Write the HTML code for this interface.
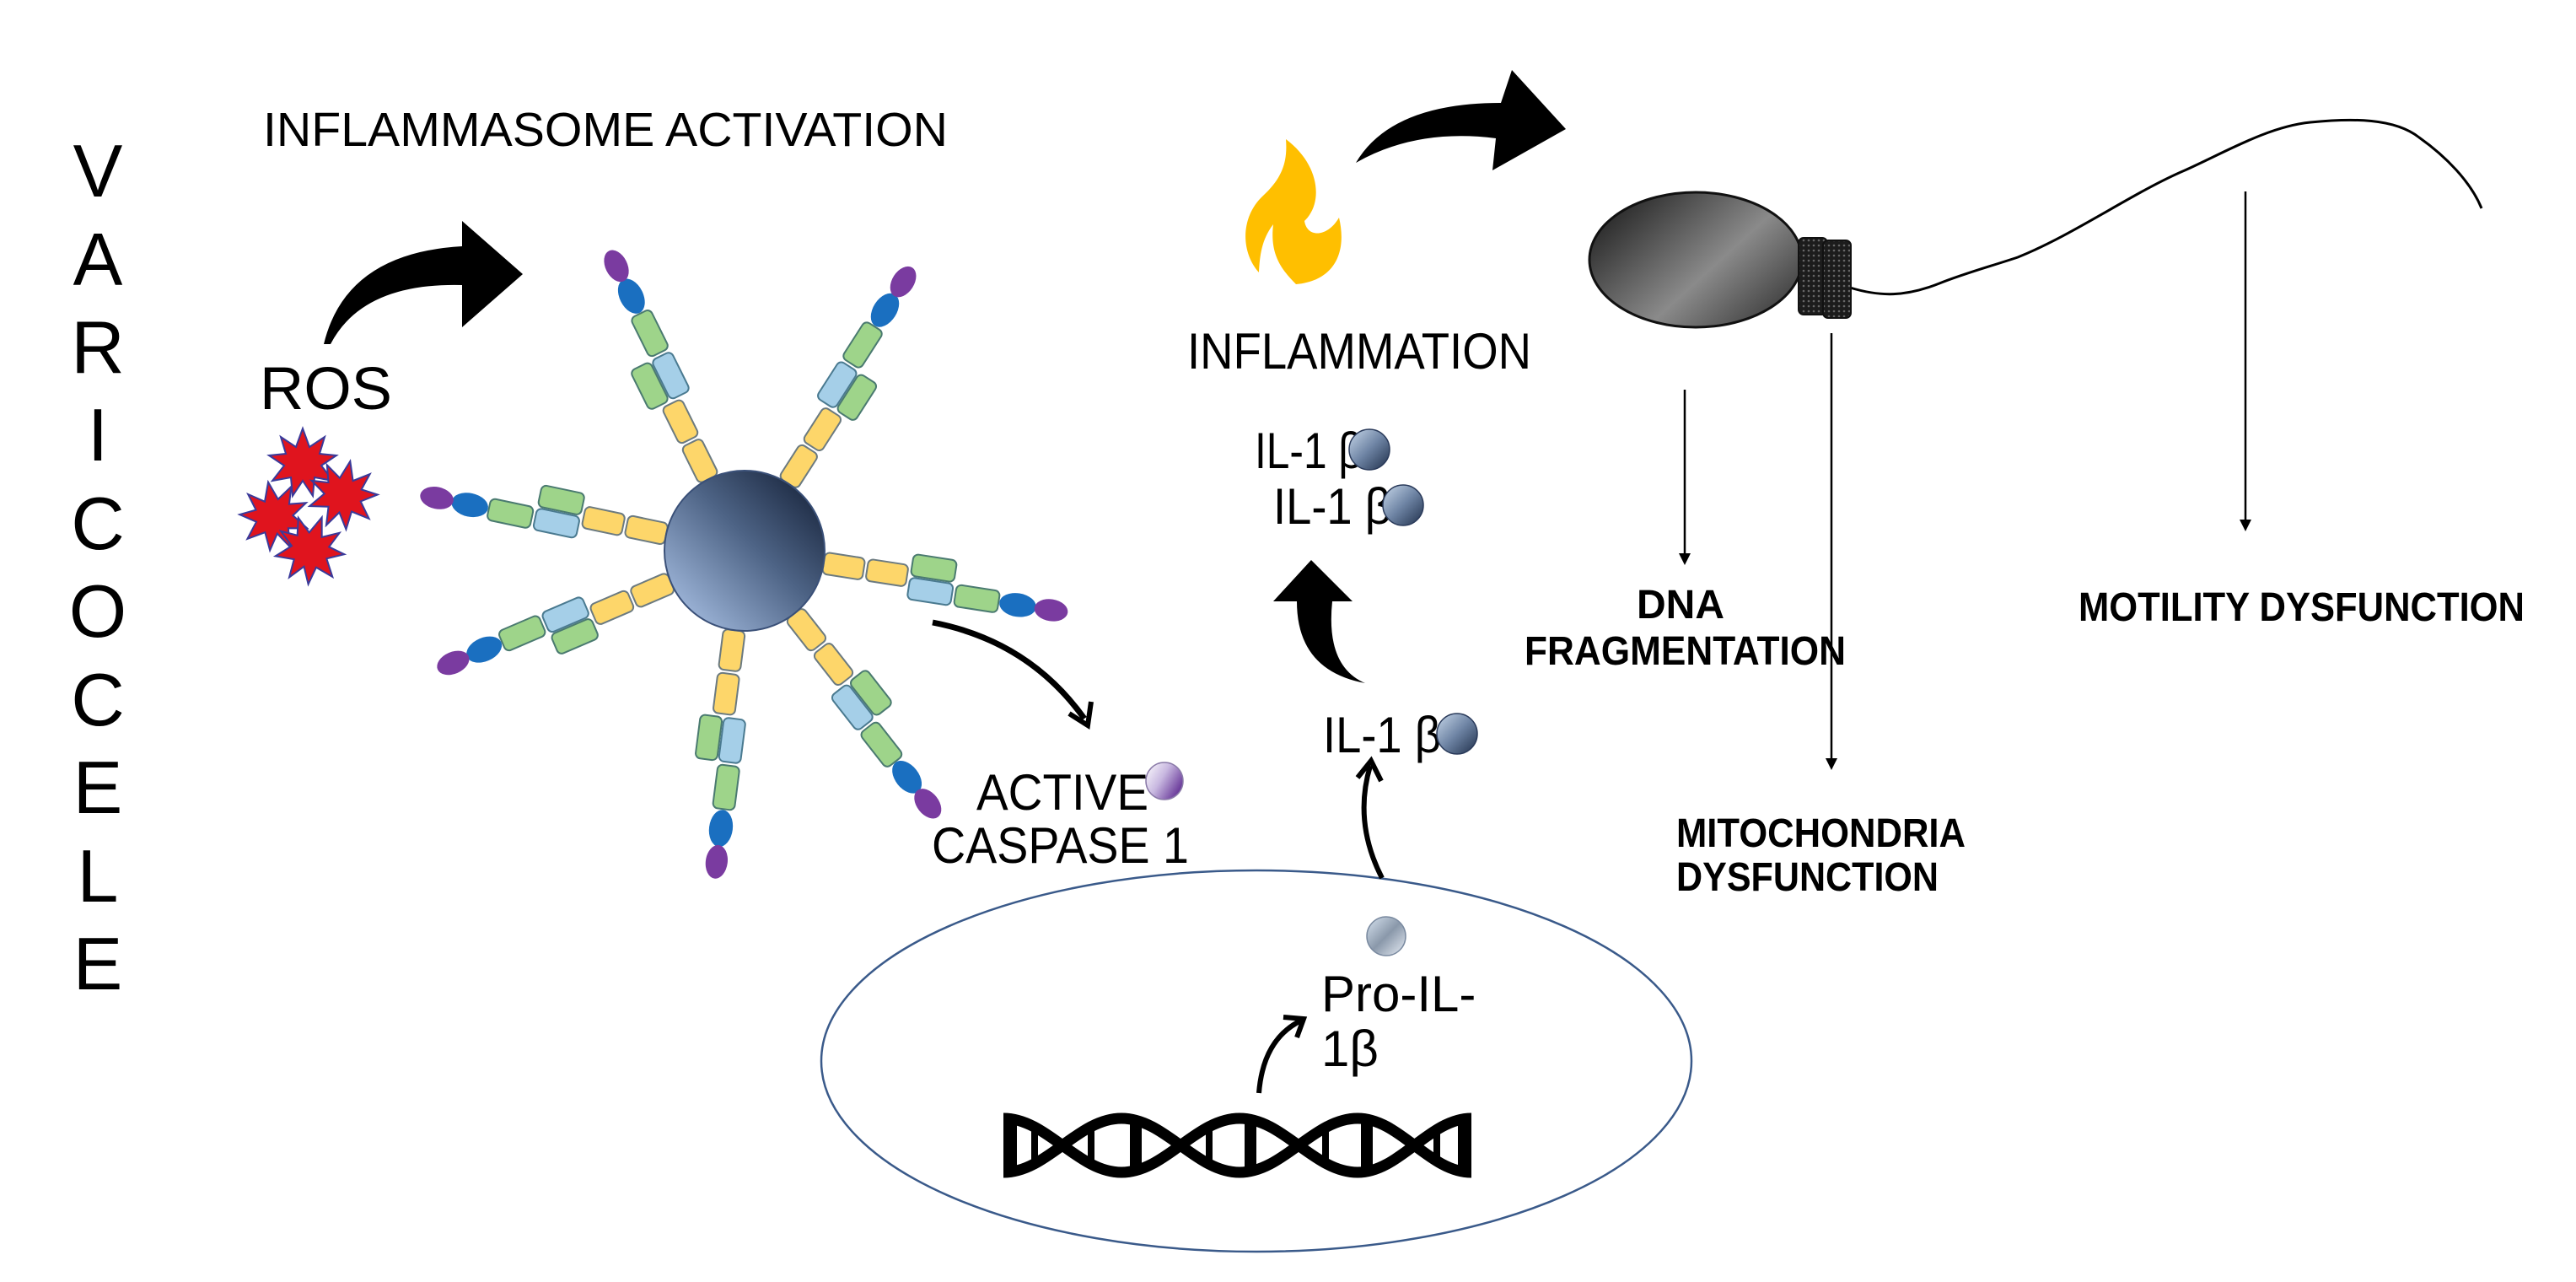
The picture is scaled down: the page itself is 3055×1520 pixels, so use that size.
<!DOCTYPE html>
<html><head><meta charset="utf-8"><style>
html,body{margin:0;padding:0;background:#fff;}
svg{display:block;}
text{font-family:"Liberation Sans",Arial,sans-serif;fill:#000;}
.b{font-weight:bold;}
</style></head><body>
<svg width="3055" height="1520" viewBox="0 0 3055 1520" xmlns="http://www.w3.org/2000/svg">
<defs>
<linearGradient id="sph" x1="1" y1="0" x2="0" y2="1">
<stop offset="0" stop-color="#0f1a30"/><stop offset="0.45" stop-color="#4d6385"/><stop offset="1" stop-color="#b3cbef"/>
</linearGradient>
<linearGradient id="ball" x1="0" y1="0" x2="1" y2="1">
<stop offset="0" stop-color="#c8d8ea"/><stop offset="0.5" stop-color="#6e84a4"/><stop offset="1" stop-color="#1f2f4a"/>
</linearGradient>
<linearGradient id="pball" x1="0" y1="0" x2="1" y2="1">
<stop offset="0" stop-color="#d8e4f0"/><stop offset="0.5" stop-color="#8a98aa"/><stop offset="1" stop-color="#e8eef6"/>
</linearGradient>
<linearGradient id="cball" x1="0" y1="0" x2="1" y2="0.6">
<stop offset="0" stop-color="#ffffff"/><stop offset="0.5" stop-color="#c8b8e0"/><stop offset="1" stop-color="#6a3a9a"/>
</linearGradient>
<linearGradient id="head" x1="0" y1="0" x2="1" y2="0.7">
<stop offset="0" stop-color="#111"/><stop offset="0.65" stop-color="#8a8a8a"/><stop offset="1" stop-color="#444"/>
</linearGradient>
<pattern id="dots" width="6" height="6" patternUnits="userSpaceOnUse">
<rect width="6" height="6" fill="#1c1c1c"/><circle cx="3" cy="3" r="1.3" fill="#666"/>
</pattern>
<g id="armA">
<rect x="95" y="-13" width="48" height="26" rx="6" fill="#fdd66a" stroke="#6b7a80" stroke-width="2"/>
<rect x="147" y="-13" width="48" height="26" rx="6" fill="#fdd66a" stroke="#6b7a80" stroke-width="2"/>
<rect x="199" y="-27" width="52" height="26" rx="6" fill="#9ed48a" stroke="#4a7a70" stroke-width="2"/>
<rect x="199" y="1" width="52" height="26" rx="6" fill="#a5cfe8" stroke="#4a7a90" stroke-width="2"/>
<rect x="255" y="1" width="52" height="26" rx="6" fill="#9ed48a" stroke="#4a7a70" stroke-width="2"/>
<ellipse cx="330" cy="14" rx="22" ry="14" fill="#1a6fc0"/>
<ellipse cx="370" cy="14" rx="20" ry="13" fill="#7a3ba0"/>
</g>
<g id="armB">
<rect x="95" y="-13" width="48" height="26" rx="6" fill="#fdd66a" stroke="#6b7a80" stroke-width="2"/>
<rect x="147" y="-13" width="48" height="26" rx="6" fill="#fdd66a" stroke="#6b7a80" stroke-width="2"/>
<rect x="199" y="1" width="52" height="26" rx="6" fill="#9ed48a" stroke="#4a7a70" stroke-width="2"/>
<rect x="199" y="-27" width="52" height="26" rx="6" fill="#a5cfe8" stroke="#4a7a90" stroke-width="2"/>
<rect x="255" y="-27" width="52" height="26" rx="6" fill="#9ed48a" stroke="#4a7a70" stroke-width="2"/>
<ellipse cx="330" cy="-14" rx="22" ry="14" fill="#1a6fc0"/>
<ellipse cx="370" cy="-14" rx="20" ry="13" fill="#7a3ba0"/>
</g>
<marker id="ah" markerWidth="10" markerHeight="10" refX="8" refY="5" orient="auto" markerUnits="userSpaceOnUse">
<path d="M0,0 L10,5 L0,10 Z" fill="#000"/></marker>
</defs>

<!-- VARICOCELE -->
<g font-size="88" text-anchor="middle">
<text x="116" y="233">V</text><text x="116" y="338">A</text><text x="116" y="442">R</text>
<text x="116" y="546">I</text><text x="116" y="651">C</text><text x="116" y="755">O</text>
<text x="116" y="860">C</text><text x="116" y="964">E</text><text x="116" y="1069">L</text>
<text x="116" y="1173">E</text>
</g>

<text x="312" y="173" font-size="57" textLength="812" lengthAdjust="spacingAndGlyphs">INFLAMMASOME ACTIVATION</text>
<text x="308" y="485" font-size="71" textLength="157" lengthAdjust="spacingAndGlyphs">ROS</text>

<!-- ROS arrow -->
<path d="M384,408 Q410,300 548,292 L548,262 L620,325 L548,388 L548,338 Q430,335 392,408 Z" fill="#000"/>

<!-- ROS stars -->
<g fill="#e0141e" stroke="#3a3a9a" stroke-width="2">
<polygon id="st" points="0,-40 8,-18 26,-30 20,-10 40,-8 22,4 36,22 14,18 12,40 0,22 -12,40 -14,18 -36,22 -22,4 -40,-8 -20,-10 -26,-30 -8,-18" transform="translate(359,548)"/>
<polygon points="0,-40 8,-18 26,-30 20,-10 40,-8 22,4 36,22 14,18 12,40 0,22 -12,40 -14,18 -36,22 -22,4 -40,-8 -20,-10 -26,-30 -8,-18" transform="translate(407,586) rotate(12)"/>
<polygon points="0,-40 8,-18 26,-30 20,-10 40,-8 22,4 36,22 14,18 12,40 0,22 -12,40 -14,18 -36,22 -22,4 -40,-8 -20,-10 -26,-30 -8,-18" transform="translate(325,611) rotate(-10)"/>
<polygon points="0,-40 8,-18 26,-30 20,-10 40,-8 22,4 36,22 14,18 12,40 0,22 -12,40 -14,18 -36,22 -22,4 -40,-8 -20,-10 -26,-30 -8,-18" transform="translate(368,651) rotate(20)"/>
</g>

<!-- inflammasome -->
<g transform="translate(883,653)">
<use href="#armA" transform="rotate(-116.4)"/>
<use href="#armB" transform="rotate(-57.3)"/>
<use href="#armB" transform="rotate(-168.1)"/>
<use href="#armA" transform="rotate(8.8)"/>
<use href="#armA" transform="rotate(156.8)"/>
<use href="#armB" transform="rotate(97.3)"/>
<use href="#armA" transform="rotate(51.9)"/>
<circle cx="0" cy="0" r="95" fill="url(#sph)" stroke="#3a5078" stroke-width="2"/>
</g>

<!-- caspase arrow -->
<path d="M1106,738 Q1220,760 1286,852" fill="none" stroke="#000" stroke-width="7"/>
<path d="M1268,846 L1290,860 L1294,832" fill="none" stroke="#000" stroke-width="6"/>
<text x="1158" y="960" font-size="60" textLength="204" lengthAdjust="spacingAndGlyphs">ACTIVE</text>
<text x="1105" y="1023" font-size="60" textLength="305" lengthAdjust="spacingAndGlyphs">CASPASE 1</text>
<circle cx="1381" cy="926" r="22" fill="url(#cball)" stroke="#8a7aa8" stroke-width="1.5"/>

<!-- cell ellipse -->
<ellipse cx="1490" cy="1258" rx="516" ry="226" fill="none" stroke="#3a5a8a" stroke-width="2.5"/>

<!-- DNA -->
<g fill="none" stroke="#000" stroke-width="13">
<path d="M1190,1326 C1242,1326 1278,1390 1330,1390 C1382,1390 1418,1326 1470,1326 C1522,1326 1558,1390 1610,1390 C1660,1390 1695,1326 1745,1326"/>
<path d="M1190,1390 C1242,1390 1278,1326 1330,1326 C1382,1326 1418,1390 1470,1390 C1522,1390 1558,1326 1610,1326 C1660,1326 1695,1390 1745,1390"/>
</g>
<g fill="#000">
<rect x="1190" y="1322" width="16" height="72"/><rect x="1729" y="1322" width="16" height="72"/>
<rect x="1223" y="1336" width="8" height="44"/><rect x="1290" y="1336" width="8" height="44"/>
<rect x="1340" y="1330" width="14" height="56"/><rect x="1430" y="1336" width="8" height="44"/>
<rect x="1476" y="1330" width="14" height="56"/><rect x="1568" y="1336" width="8" height="44"/>
<rect x="1614" y="1330" width="14" height="56"/><rect x="1700" y="1336" width="8" height="44"/>
</g>

<!-- DNA -> Pro arrow -->
<path d="M1493,1296 Q1498,1232 1543,1210" fill="none" stroke="#000" stroke-width="6"/>
<path d="M1522,1206 L1546,1208 L1538,1230" fill="none" stroke="#000" stroke-width="6"/>
<circle cx="1644" cy="1110" r="23" fill="url(#pball)" stroke="#7a8aa0" stroke-width="1.5"/>
<text x="1567" y="1199" font-size="60">Pro-IL-</text>
<text x="1567" y="1264" font-size="60">1β</text>

<!-- Pro -> IL arrow -->
<path d="M1639,1041 Q1605,975 1625,908" fill="none" stroke="#000" stroke-width="6"/>
<path d="M1610,922 L1626,902 L1638,926" fill="none" stroke="#000" stroke-width="6"/>
<text x="1569" y="892" font-size="60" textLength="140" lengthAdjust="spacingAndGlyphs">IL-1 β</text>
<circle cx="1728" cy="870" r="24" fill="url(#ball)" stroke="#2a3a5a" stroke-width="1.5"/>

<!-- thick up arrow -->
<path d="M1619,810 Q1572,790 1580,713 L1604,713 L1555,664 L1510,713 L1538,713 Q1538,795 1619,810 Z" fill="#000"/>

<text x="1488" y="555" font-size="60" textLength="128" lengthAdjust="spacingAndGlyphs">IL-1 β</text>
<circle cx="1624" cy="533" r="24" fill="url(#ball)" stroke="#2a3a5a" stroke-width="1.5"/>
<text x="1510" y="621" font-size="60" textLength="140" lengthAdjust="spacingAndGlyphs">IL-1 β</text>
<circle cx="1664" cy="599" r="24" fill="url(#ball)" stroke="#2a3a5a" stroke-width="1.5"/>

<text x="1408" y="437" font-size="60" textLength="408" lengthAdjust="spacingAndGlyphs">INFLAMMATION</text>

<!-- flame -->
<path d="M1525,165 C1565,195 1570,240 1547,262 C1550,282 1574,282 1588,258 C1598,300 1582,333 1537,337 C1518,318 1506,300 1510,266 C1496,284 1494,304 1493,323 C1472,300 1470,258 1498,232 C1522,210 1527,190 1525,165 Z" fill="#ffbf00"/>

<!-- top arrow -->
<path d="M1608,193 Q1650,122 1780,122 L1793,83 L1857,153 L1770,202 L1774,164 Q1680,152 1608,193 Z" fill="#000"/>

<!-- sperm -->
<path d="M2194,341 C2230,352 2260,352 2300,336 C2330,324 2360,316 2393,305 C2460,278 2530,228 2591,202 C2640,180 2690,150 2740,145 C2790,140 2840,140 2869,163 C2900,185 2930,215 2943,247" fill="none" stroke="#000" stroke-width="3"/>
<ellipse cx="2011" cy="308" rx="126" ry="80" fill="url(#head)" stroke="#111" stroke-width="3"/>
<rect x="2133" y="282" width="34" height="91" rx="6" fill="url(#dots)" stroke="#111" stroke-width="2"/>
<rect x="2162" y="285" width="33" height="92" rx="6" fill="url(#dots)" stroke="#111" stroke-width="2"/>

<!-- down arrows -->
<g stroke="#000" stroke-width="2.5">
<line x1="1998" y1="462" x2="1998" y2="660"/>
<line x1="2172" y1="395" x2="2172" y2="903"/>
<line x1="2663" y1="227" x2="2663" y2="620"/>
</g>
<g fill="#000">
<path d="M1991,656 L2005,656 L1998,670 Z"/>
<path d="M2165,899 L2179,899 L2172,913 Z"/>
<path d="M2656,616 L2670,616 L2663,630 Z"/>
</g>

<g class="b" font-size="48">
<text x="1993" y="733" text-anchor="middle" class="b" font-weight="bold">DNA</text>
<text x="1808" y="788" font-weight="bold" textLength="381" lengthAdjust="spacingAndGlyphs">FRAGMENTATION</text>
<text x="2465" y="736" font-weight="bold" textLength="529" lengthAdjust="spacingAndGlyphs">MOTILITY DYSFUNCTION</text>
<text x="1988" y="1004" font-weight="bold" textLength="343" lengthAdjust="spacingAndGlyphs">MITOCHONDRIA</text>
<text x="1988" y="1056" font-weight="bold" textLength="311" lengthAdjust="spacingAndGlyphs">DYSFUNCTION</text>
</g>
</svg>
</body></html>
